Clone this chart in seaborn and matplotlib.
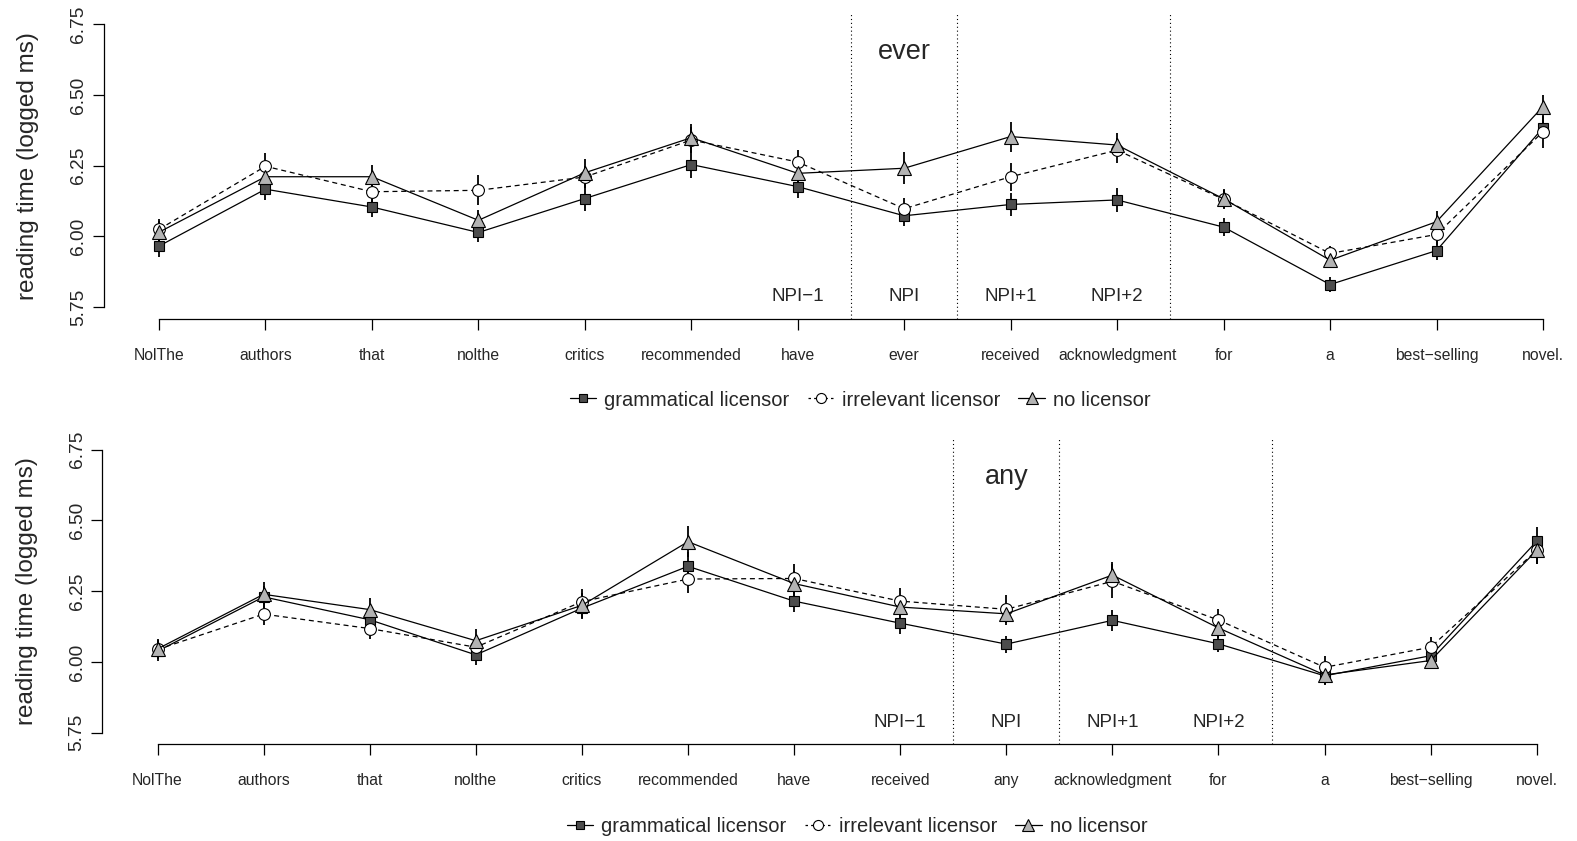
import numpy as np
import pandas as pd
import matplotlib
matplotlib.use("Agg")
import matplotlib.pyplot as plt
from matplotlib.lines import Line2D
import seaborn as sns

# ---------------- data ----------------
words_ever = ["NolThe", "authors", "that", "nolthe", "critics", "recommended", "have",
              "ever", "received", "acknowledgment", "for", "a", "best\u2212selling", "novel."]
words_any = ["NolThe", "authors", "that", "nolthe", "critics", "recommended", "have",
             "received", "any", "acknowledgment", "for", "a", "best\u2212selling", "novel."]

conditions = ["grammatical licensor", "irrelevant licensor", "no licensor"]

# panel 1: "ever"
ever_gram = [5.966, 6.167, 6.104, 6.014, 6.134, 6.254, 6.176, 6.073, 6.113, 6.129, 6.033, 5.830, 5.950, 6.384]
ever_irr  = [6.025, 6.248, 6.158, 6.163, 6.210, 6.341, 6.263, 6.098, 6.211, 6.305, 6.131, 5.940, 6.007, 6.370]
ever_none = [6.015, 6.211, 6.211, 6.057, 6.225, 6.349, 6.223, 6.241, 6.353, 6.323, 6.133, 5.916, 6.052, 6.459]
ever_gram_se = [0.037, 0.038, 0.035, 0.035, 0.044, 0.047, 0.041, 0.035, 0.040, 0.041, 0.031, 0.025, 0.035, 0.038]
ever_irr_se  = [0.038, 0.047, 0.035, 0.053, 0.040, 0.047, 0.041, 0.038, 0.050, 0.044, 0.032, 0.026, 0.038, 0.056]
ever_none_se = [0.038, 0.041, 0.041, 0.035, 0.048, 0.049, 0.038, 0.057, 0.053, 0.042, 0.035, 0.029, 0.038, 0.041]

# panel 2: "any"
any_gram = [6.038, 6.230, 6.149, 6.025, 6.190, 6.338, 6.215, 6.137, 6.063, 6.147, 6.064, 5.951, 6.022, 6.427]
any_irr  = [6.044, 6.169, 6.118, 6.052, 6.213, 6.293, 6.295, 6.215, 6.186, 6.285, 6.148, 5.981, 6.052, 6.395]
any_none = [6.046, 6.239, 6.185, 6.075, 6.200, 6.425, 6.277, 6.194, 6.170, 6.307, 6.120, 5.954, 6.005, 6.395]
any_gram_se = [0.035, 0.040, 0.035, 0.035, 0.040, 0.050, 0.040, 0.040, 0.030, 0.038, 0.030, 0.030, 0.030, 0.050]
any_irr_se  = [0.035, 0.040, 0.038, 0.035, 0.045, 0.050, 0.050, 0.045, 0.050, 0.060, 0.040, 0.040, 0.035, 0.050]
any_none_se = [0.035, 0.045, 0.040, 0.040, 0.045, 0.055, 0.045, 0.040, 0.040, 0.045, 0.035, 0.035, 0.030, 0.050]

region_labels = ["NPI\u22121", "NPI", "NPI+1", "NPI+2"]
ever_region_pos = [7, 8, 9, 10]
any_region_pos = [8, 9, 10, 11]
ever_bounds = [7.5, 8.5, 10.5]
any_bounds = [8.5, 9.5, 11.5]
y_ticks = [5.75, 6.00, 6.25, 6.50, 6.75]
y_tick_labels = ["5.75", "6.00", "6.25", "6.50", "6.75"]

# ---------------- style ----------------
sns.set_theme(style="ticks")
plt.rcParams["font.family"] = ["Liberation Sans", "DejaVu Sans"]
plt.rcParams["axes.unicode_minus"] = True

styles = {
    "grammatical licensor": dict(marker="s", markersize=7, markerfacecolor="#4d4d4d", linestyle="-"),
    "irrelevant licensor": dict(marker="o", markersize=8.5, markerfacecolor="white", linestyle=(0, (4, 3))),
    "no licensor": dict(marker="^", markersize=10, markerfacecolor="#b3b3b3", linestyle="-"),
}

fig = plt.figure(figsize=(15.77, 8.41), dpi=100)

W, H = 1577.0, 841.0
ax_h = 305.6 / H

u1 = 106.46
l1 = 159 - 0.52 * u1
ax1 = fig.add_axes([l1 / W, 1 - 318.5 / H, 14.04 * u1 / W, ax_h])
u2 = 106.1
l2 = 157.5 - 0.52 * u2
ax2 = fig.add_axes([l2 / W, 1 - 744.0 / H, 14.04 * u2 / W, ax_h])


def draw_panel(ax, words, series, ses, region_pos, bounds, big_label, big_x):
    pos = np.arange(1, len(words) + 1)
    rows = []
    for cond, vals in zip(conditions, series):
        for p, v in zip(pos, vals):
            rows.append(dict(pos=p, rt=v, cond=cond))
    df = pd.DataFrame(rows)
    for vals, se in zip(series, ses):
        v = np.array(vals)
        s = np.array(se)
        ax.vlines(pos, v - s, v + s, color="black", linewidth=1.3, zorder=2)
    for cond in conditions:
        sub = df[df["cond"] == cond]
        st = styles[cond]
        sns.lineplot(data=sub, x="pos", y="rt", ax=ax, color="black", linewidth=0.9,
                     marker=st["marker"], markersize=st["markersize"],
                     markerfacecolor=st["markerfacecolor"], markeredgecolor="black",
                     markeredgewidth=0.8, linestyle=st["linestyle"], zorder=3,
                     errorbar=None, legend=False)
    for b in bounds:
        ax.axvline(b, color="black", linestyle=(0, (1, 2.5)), linewidth=0.8, zorder=1)
    for lab, p in zip(region_labels, region_pos):
        ax.text(p, 5.757, lab, ha="center", va="bottom", fontsize=13.5)
    ax.text(big_x, 6.652, big_label, ha="center", va="center", fontsize=19.5)

    ax.set_xlim(0.48, 14.52)
    ax.set_ylim(5.71, 6.79)
    ax.set_xticks(pos)
    ax.set_xticklabels(words, fontsize=11.3)
    ax.set_yticks(y_ticks)
    ax.set_yticklabels(y_tick_labels, fontsize=13.8)
    ax.tick_params(axis="y", labelrotation=90, length=8, width=0.9, pad=4, color="black")
    for lab in ax.get_yticklabels():
        lab.set_va("center")
    ax.tick_params(axis="x", length=8, width=0.9, pad=13, color="black")
    ax.set_xlabel("")
    ax.set_ylabel("reading time (logged ms)", fontsize=17.5, labelpad=22)
    sns.despine(ax=ax, top=True, right=True)
    ax.spines["left"].set_bounds(5.75, 6.75)
    ax.spines["bottom"].set_bounds(1, len(words))
    for sp in ("left", "bottom"):
        ax.spines[sp].set_color("black")
        ax.spines[sp].set_linewidth(0.9)
    ax.set_facecolor("white")


draw_panel(ax1, words_ever, [ever_gram, ever_irr, ever_none],
           [ever_gram_se, ever_irr_se, ever_none_se], ever_region_pos, ever_bounds, "ever", 8)
draw_panel(ax2, words_any, [any_gram, any_irr, any_none],
           [any_gram_se, any_irr_se, any_none_se], any_region_pos, any_bounds, "any", 9)


def legend_handles():
    hs = []
    for cond in conditions:
        st = styles[cond]
        hs.append(Line2D([], [], color="black", linewidth=0.9, marker=st["marker"],
                         markersize=st["markersize"] * 0.85, markerfacecolor=st["markerfacecolor"],
                         markeredgecolor="black", markeredgewidth=0.8,
                         linestyle=st["linestyle"] if cond != "irrelevant licensor" else (0, (2, 2.5))))
    return hs


for xc, yc in ((0.5455, 1 - 400 / H), (0.5435, 1 - 827 / H)):
    fig.legend(legend_handles(), conditions, loc="center", bbox_to_anchor=(xc, yc),
               ncol=3, frameon=False, fontsize=14.5, handlelength=1.3, handletextpad=0.4,
               columnspacing=0.9)

fig.savefig("out.png", dpi=100, facecolor="white")
